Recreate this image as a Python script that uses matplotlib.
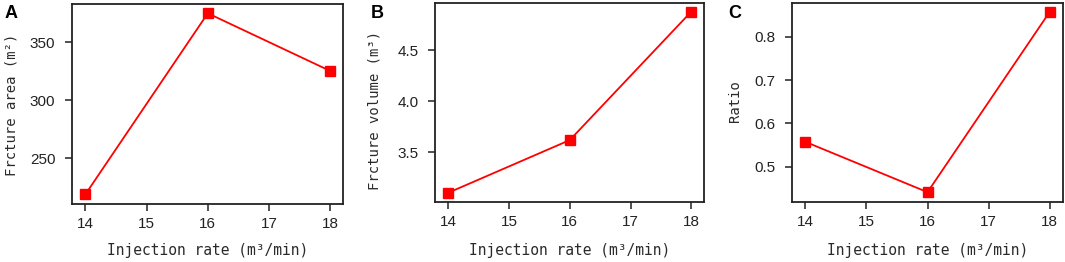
import matplotlib.pyplot as plt

# data
rate = [14, 16, 18]
area = [219, 375, 325.3]
volume = [3.104, 3.62, 4.878]
ratio = [0.5575, 0.441, 0.858]

ylabels = ["Frcture area (m²)", "Frcture volume (m³)", "Ratio"]
letters = ["A", "B", "C"]
yticks = [[250, 300, 350], [3.5, 4.0, 4.5], [0.5, 0.6, 0.7, 0.8]]
ylims = [(210.6, 383), (3.016, 4.96), (0.419, 0.878)]
yfmt = ["{:.0f}", "{:.1f}", "{:.1f}"]

plt.rcParams['font.family'] = ['Liberation Sans', 'DejaVu Sans']
mono = ['DejaVu Sans Mono', 'Noto Sans CJK SC']

fig = plt.figure(figsize=(10.65, 2.62), dpi=100)
W, H = 1065.0, 262.0
# axes boxes in pixels: left, right, top, bottom
boxes = [(72, 343, 4, 204), (435, 704, 3.3, 201.7), (791.7, 1062.7, 3, 201.7)]
series = [area, volume, ratio]
letter_x = [5, 371, 728]
ylab_x = [12, 374, 735]    # centre of y label, pixels
ylab_y = [105, 110, 101]
xlab_y = 250               # centre of x label, pixels

for k in range(3):
    l, r, t, b = boxes[k]
    ax = fig.add_axes([l / W, 1 - b / H, (r - l) / W, (b - t) / H])
    ax.plot(rate, series[k], color='#ff0000', lw=1.3, marker='s', ms=7.5,
            mec='#ff0000', mfc='#ff0000')
    ax.set_xlim(13.78, 18.21)
    ax.set_ylim(*ylims[k])
    ax.set_xticks([14, 15, 16, 17, 18])
    ax.set_yticks(yticks[k])
    ax.set_yticklabels([yfmt[k].format(v) for v in yticks[k]])
    ax.tick_params(labelsize=11, length=5, width=1.1, direction='out',
                   colors='#222222', labelcolor='#222222')
    ax.tick_params(axis='x', pad=4.5)
    ax.tick_params(axis='y', pad=7)
    for s in ax.spines.values():
        s.set_linewidth(1.3)
        s.set_color('#222222')
    ax.set_xlabel("Injection rate (m³/min)", family=mono, fontsize=10.5,
                  color='#2a2a2a', va='center')
    ax.set_ylabel(ylabels[k], family=mono, fontsize=10, color='#2a2a2a',
                  va='center')
    ax.xaxis.set_label_coords(0.5, (b - xlab_y) / (b - t))
    ax.yaxis.set_label_coords((ylab_x[k] - l) / (r - l),
                              (b - ylab_y[k]) / (b - t))
    fig.text(letter_x[k] / W, 1 - 5 / H, letters[k], fontsize=13,
             fontweight='bold', va='top', ha='left')

fig.savefig('out.png', dpi=100)
